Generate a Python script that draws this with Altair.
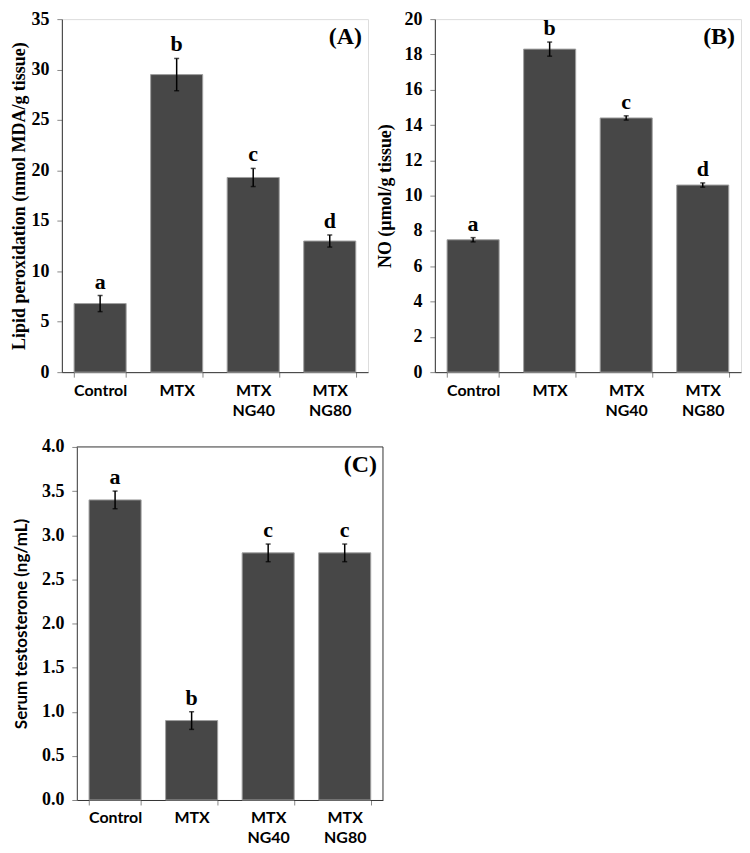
import altair as alt
import pandas as pd

groups = ["Control", "MTX", "MTX NG40", "MTX NG80"]

lpo_mean = [6.8, 29.5, 19.3, 13.0]
lpo_err = [0.8, 1.6, 0.9, 0.6]
lpo_letters = ["a", "b", "c", "d"]

no_mean = [7.5, 18.3, 14.4, 10.6]
no_err = [0.12, 0.4, 0.12, 0.12]
no_letters = ["a", "b", "c", "d"]

tst_mean = [3.4, 0.9, 2.8, 2.8]
tst_err = [0.1, 0.1, 0.1, 0.1]
tst_letters = ["a", "b", "c", "c"]

SERIF = "Liberation Serif"
SANS = "Lato"
FRAME = "#333333"


def panel(means, errs, letters, ytitle, ymax, ticks, fmt, tag, title_font,
          title_size, width, height, title_x, inner_left=0):
    df = pd.DataFrame({
        "group": groups,
        "mean": means,
        "lo": [m - e for m, e in zip(means, errs)],
        "hi": [m + e for m, e in zip(means, errs)],
        "letter": letters,
    })
    x = alt.X("group:N", sort=groups,
              scale=alt.Scale(paddingInner=0.32, paddingOuter=0.16,
                              range=[inner_left, width]),
              axis=alt.Axis(title=None, labelAngle=0, tickBand="extent",
                            labelExpr="split(datum.label, ' ')",
                            labelFont=SANS, labelFontWeight="bold",
                            labelFontSize=16, labelColor="black",
                            labelPadding=5, labelLineHeight=20,
                            tickSize=5, tickColor="#888888",
                            domainColor=FRAME))
    yscale = alt.Scale(domain=[0, ymax], nice=False, zero=True)
    yaxis = alt.Axis(title=ytitle, values=ticks, format=fmt,
                     grid=False, labelFont=SERIF,
                     labelFontWeight="bold", labelFontSize=18,
                     labelColor="black", labelPadding=8,
                     labelOverlap=False, offset=-inner_left,
                     tickSize=5, tickColor="#888888",
                     domainColor=FRAME,
                     titleFont=title_font, titleFontWeight="bold",
                     titleFontSize=title_size, titleColor="black",
                     titleAngle=270, titleAlign="center",
                     titleBaseline="bottom",
                     titleX=title_x, titleY=height / 2)
    base = alt.Chart(df).encode(x=x)
    bars = base.mark_bar(color="#474747", stroke="#a0a0a0",
                         strokeWidth=1).encode(
        y=alt.Y("mean:Q", scale=yscale, axis=yaxis))
    err = base.mark_rule(color="black", strokeWidth=1.5).encode(
        y=alt.Y("lo:Q", scale=yscale, axis=yaxis), y2="hi:Q")
    cap_lo = base.mark_tick(color="black", orient="horizontal", size=5,
                            thickness=1.5).encode(
        y=alt.Y("lo:Q", scale=yscale, axis=yaxis))
    cap_hi = base.mark_tick(color="black", orient="horizontal", size=5,
                            thickness=1.5).encode(
        y=alt.Y("hi:Q", scale=yscale, axis=yaxis))
    lab = base.mark_text(font=SERIF, fontWeight="bold", fontSize=22,
                         baseline="alphabetic", dy=-7, color="black").encode(
        y=alt.Y("hi:Q", scale=yscale, axis=yaxis), text="letter:N")
    one = pd.DataFrame({"t": [tag]})
    tagt = alt.Chart(one).mark_text(
        font=SERIF, fontWeight="bold", fontSize=24, align="right",
        baseline="top", color="black").encode(
        x=alt.value(width - 6), y=alt.value(6), text="t:N")
    layers = [bars, err, cap_lo, cap_hi, lab, tagt]
    props = dict(width=width, height=height)
    if inner_left:
        top = alt.Chart(one).mark_rule(color=FRAME, strokeWidth=1).encode(
            x=alt.value(inner_left), x2=alt.value(width), y=alt.value(0))
        right = alt.Chart(one).mark_rule(color=FRAME, strokeWidth=1).encode(
            x=alt.value(width), y=alt.value(0), y2=alt.value(height))
        layers += [top, right]
        props["view"] = alt.ViewConfig(stroke="transparent")
    return alt.layer(*layers).properties(**props)


pA = panel(lpo_mean, lpo_err, lpo_letters,
           "Lipid peroxidation (nmol MDA/g tissue)", 35,
           [0, 5, 10, 15, 20, 25, 30, 35], "d", "(A)", SERIF, 18, 307, 354,
           -33)
pB = panel(no_mean, no_err, no_letters, "NO (µmol/g tissue)", 20,
           [0, 2, 4, 6, 8, 10, 12, 14, 16, 18, 20], "d", "(B)", SERIF, 18,
           307, 354, -40)
pC = panel(tst_mean, tst_err, tst_letters, "Serum testosterone  (ng/mL)", 4,
           [0, 0.5, 1, 1.5, 2, 2.5, 3, 3.5, 4], ".1f", "(C)", SANS, 17,
           322, 354, -46, inner_left=15)

chart = alt.vconcat(alt.hconcat(pA, pB, spacing=7), pC, spacing=18).properties(
    padding={"left": 2, "top": 0, "right": 0, "bottom": 0}
).configure_view(stroke=FRAME, strokeWidth=1).configure_axis(
    labelOverlap=False
).configure(background="white")

chart.save("out.html", embed_options={"renderer": "svg", "actions": False})
